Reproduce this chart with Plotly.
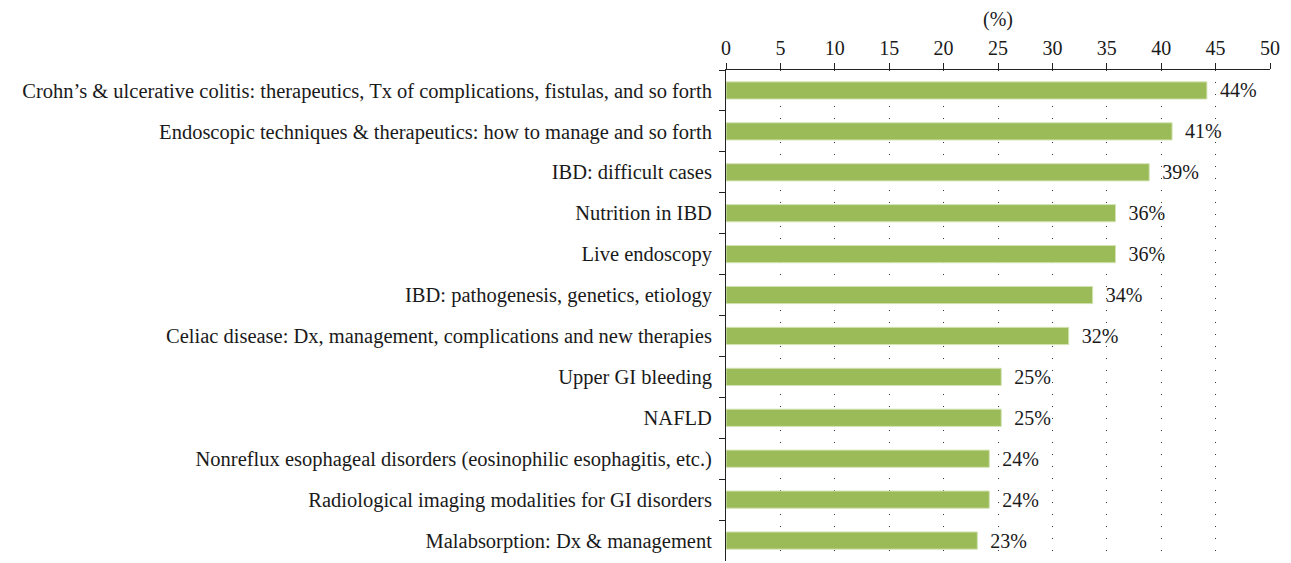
import plotly.graph_objects as go

categories = [
    "Crohn’s & ulcerative colitis: therapeutics, Tx of complications, fistulas, and so forth",
    "Endoscopic techniques & therapeutics: how to manage and so forth",
    "IBD: difficult cases",
    "Nutrition in IBD",
    "Live endoscopy",
    "IBD: pathogenesis, genetics, etiology",
    "Celiac disease: Dx, management, complications and new therapies",
    "Upper GI bleeding",
    "NAFLD",
    "Nonreflux esophageal disorders (eosinophilic esophagitis, etc.)",
    "Radiological imaging modalities for GI disorders",
    "Malabsorption: Dx & management",
]
values = [44.2, 41.0, 38.9, 35.8, 35.8, 33.7, 31.5, 25.3, 25.3, 24.2, 24.2, 23.1]
labels = ["44%", "41%", "39%", "36%", "36%", "34%", "32%", "25%", "25%", "24%", "24%", "23%"]
x_ticks = [0, 5, 10, 15, 20, 25, 30, 35, 40, 45, 50]

FONT = "Liberation Serif"
FS = 20

fig = go.Figure()
fig.add_trace(go.Bar(
    x=values,
    y=categories,
    orientation="h",
    width=0.42,
    marker=dict(color="#9BBB59", line=dict(color="#d3e3b3", width=1)),
    text=["  " + t for t in labels],
    textposition="outside",
    constraintext="none",
    textfont=dict(family=FONT, size=FS, color="#1a1a1a"),
    cliponaxis=False,
))

fig.update_layout(
    width=1283,
    height=555,
    margin=dict(l=718, r=21, t=62, b=2),
    paper_bgcolor="white",
    plot_bgcolor="white",
    showlegend=False,
    font=dict(family=FONT, size=FS, color="#1a1a1a"),
)

fig.update_xaxes(
    side="top",
    range=[0, 50],
    tickvals=x_ticks,
    ticks="outside",
    ticklen=6,
    tickcolor="#222",
    showline=True,
    linecolor="#222",
    linewidth=1,
    showgrid=True,
    gridcolor="#333",
    gridwidth=1,
    griddash="1px,11px",
    zeroline=False,
    title=dict(text="(%)", font=dict(family=FONT, size=FS), standoff=10),
    tickfont=dict(family=FONT, size=FS),
    automargin=False,
)

fig.update_yaxes(
    autorange="reversed",
    ticks="outside",
    tickson="boundaries",
    ticklen=6,
    tickcolor="#222",
    showline=True,
    linecolor="#222",
    linewidth=1,
    showgrid=False,
    tickfont=dict(family=FONT, size=20.5),
    ticklabelstandoff=9,
    automargin=False,
)

fig.write_html("out.html")
